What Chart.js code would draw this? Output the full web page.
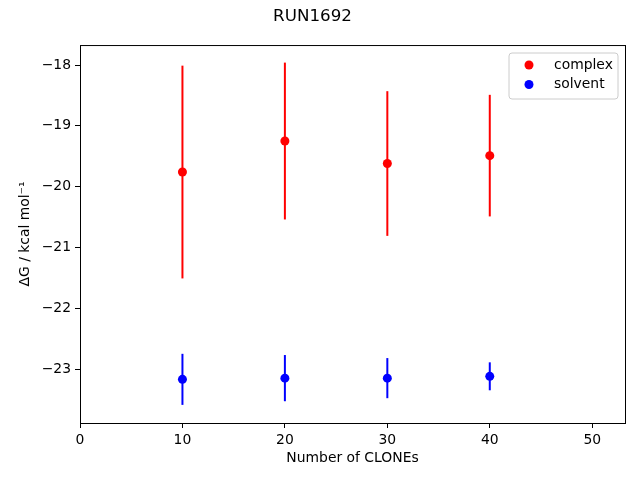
<!DOCTYPE html>
<html lang="en">
<head>
    <meta charset="UTF-8">
    <title>RUN1692</title>
    <style>
        body {
            margin: 0;
            background-color: #fff;
        }
        #chart {
            display: block;
        }
    </style>
</head>
<body>
    <canvas id="chart" width="640" height="480"></canvas>
    <script src="https://cdn.jsdelivr.net/npm/chart.js"></script>
    <script>
        // values
        const clones = [10, 20, 30, 40];
        const complexMean = [-19.76, -19.25, -19.62, -19.49];
        const complexErr = [1.75, 1.29, 1.19, 1.0];
        const solventMean = [-23.17, -23.15, -23.15, -23.12];
        const solventErr = [0.42, 0.38, 0.33, 0.23];
        const xTicks = [0, 10, 20, 30, 40, 50];
        const yTicks = [-23, -22, -21, -20, -19, -18];

        const font = "'DejaVu Sans', sans-serif";

        function toPoints(xs, ys, errs) {
            return xs.map((x, i) => ({ x: x, y: ys[i], err: errs[i] }));
        }

        // matplotlib style error bars, full frame and legend
        const mplExtras = {
            id: 'mplExtras',
            beforeDatasetsDraw(chart) {
                const ctx = chart.ctx;
                const xs = chart.scales.x, ys = chart.scales.y;
                ctx.save();
                ctx.lineWidth = 2;
                chart.data.datasets.forEach(ds => {
                    ctx.strokeStyle = ds.backgroundColor;
                    ds.data.forEach(p => {
                        const px = xs.getPixelForValue(p.x);
                        ctx.beginPath();
                        ctx.moveTo(px, ys.getPixelForValue(p.y + p.err));
                        ctx.lineTo(px, ys.getPixelForValue(p.y - p.err));
                        ctx.stroke();
                    });
                });
                ctx.restore();
            },
            afterDraw(chart) {
                const ctx = chart.ctx;
                const a = chart.chartArea;
                ctx.save();
                ctx.strokeStyle = '#000';
                ctx.lineWidth = 1;
                ctx.strokeRect(a.left + 0.5, a.top + 0.5, a.right - a.left, a.bottom - a.top);

                // legend box
                const lx = 509, ly = 53, lw = 109, lh = 46, r = 3;
                ctx.beginPath();
                ctx.moveTo(lx + r, ly);
                ctx.arcTo(lx + lw, ly, lx + lw, ly + lh, r);
                ctx.arcTo(lx + lw, ly + lh, lx, ly + lh, r);
                ctx.arcTo(lx, ly + lh, lx, ly, r);
                ctx.arcTo(lx, ly, lx + lw, ly, r);
                ctx.closePath();
                ctx.fillStyle = 'rgba(255,255,255,0.8)';
                ctx.fill();
                ctx.strokeStyle = '#cccccc';
                ctx.stroke();

                ctx.font = '13.9px ' + font;
                ctx.textBaseline = 'middle';
                chart.data.datasets.forEach((ds, i) => {
                    const y = 65 + i * 19.5;
                    ctx.fillStyle = ds.backgroundColor;
                    ctx.beginPath();
                    ctx.arc(529, y, 4.5, 0, Math.PI * 2);
                    ctx.fill();
                    ctx.fillStyle = '#000';
                    ctx.fillText(ds.label, 554, y);
                });
                ctx.restore();
            }
        };

        new Chart(document.getElementById('chart'), {
            type: 'scatter',
            data: {
                datasets: [
                    {
                        label: 'complex',
                        data: toPoints(clones, complexMean, complexErr),
                        backgroundColor: '#ff0000',
                        borderColor: '#ff0000',
                        pointRadius: 4.5,
                        borderWidth: 0
                    },
                    {
                        label: 'solvent',
                        data: toPoints(clones, solventMean, solventErr),
                        backgroundColor: '#0000ff',
                        borderColor: '#0000ff',
                        pointRadius: 4.5,
                        borderWidth: 0
                    }
                ]
            },
            options: {
                responsive: false,
                animation: false,
                devicePixelRatio: 1,
                layout: { padding: { left: 0, right: 15, top: 0, bottom: 0 } },
                plugins: {
                    legend: { display: false },
                    tooltip: { enabled: false },
                    title: {
                        display: true,
                        text: 'RUN1692',
                        color: '#000',
                        font: { family: font, size: 16.7, weight: 'normal' },
                        padding: { top: 7, bottom: 18 }
                    }
                },
                scales: {
                    x: {
                        type: 'linear',
                        min: 0,
                        max: 53.2,
                        afterBuildTicks: s => { s.ticks = xTicks.map(v => ({ value: v })); },
                        afterFit: s => { s.height = 57; },
                        border: { display: false },
                        grid: { drawOnChartArea: false, tickLength: 5, tickColor: '#000', tickWidth: 1 },
                        ticks: {
                            color: '#000',
                            padding: 4,
                            maxRotation: 0,
                            font: { family: font, size: 13.9 },
                            callback: v => String(v)
                        },
                        title: {
                            display: true,
                            text: 'Number of CLONEs',
                            color: '#000',
                            font: { family: font, size: 13.9 },
                            padding: { top: 0, bottom: 13 }
                        }
                    },
                    y: {
                        type: 'linear',
                        min: -23.888,
                        max: -17.671,
                        afterBuildTicks: s => { s.ticks = yTicks.map(v => ({ value: v })); },
                        afterFit: s => { s.width = 80; },
                        border: { display: false },
                        grid: { drawOnChartArea: false, tickLength: 5, tickColor: '#000', tickWidth: 1 },
                        ticks: {
                            color: '#000',
                            padding: 4,
                            font: { family: font, size: 13.9 },
                            callback: v => String(v).replace('-', '\u2212')
                        },
                        title: {
                            display: true,
                            text: '\u0394G / kcal mol\u207B\u00B9',
                            color: '#000',
                            font: { family: font, size: 13.9 },
                            padding: { top: 17, bottom: 0 }
                        }
                    }
                }
            },
            plugins: [mplExtras]
        });
    </script>
</body>
</html>
